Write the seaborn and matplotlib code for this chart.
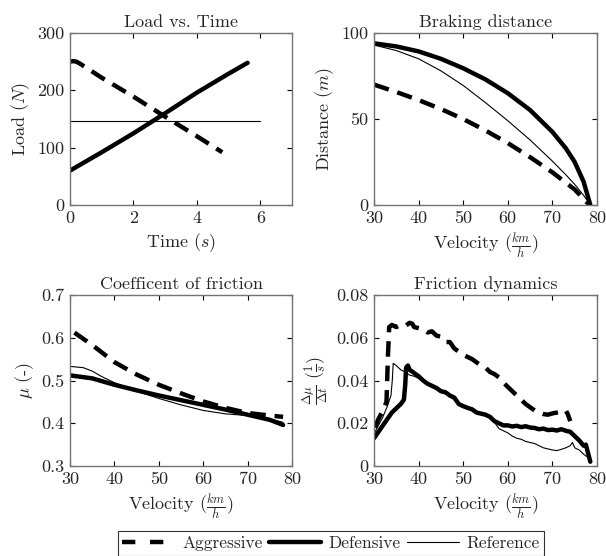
import numpy as np
import pandas as pd
import seaborn as sns
import matplotlib
matplotlib.use("Agg")
import matplotlib.pyplot as plt
from matplotlib.lines import Line2D

# ---------------- data ----------------
series_names = ["Aggressive", "Defensive", "Reference"]

# Load vs. Time
t_agg = [0, 0.1, 0.2, 0.3, 0.5, 1.0, 2.0, 3.0, 4.0, 4.8]
load_agg = [250, 251, 250, 247, 240, 222, 189, 154, 120, 92]
t_def = [0, 1, 2, 3, 4, 5, 5.6]
load_def = [60, 92, 125, 160, 196, 229, 248]
t_ref = [0, 6]
load_ref = [147, 147]

# Braking distance
v_dist_def = [30, 35, 40, 45, 50, 55, 60, 65, 70, 73, 75, 77, 78.5]
dist_def = [94, 92.2, 89.3, 85, 79.5, 73, 65, 55.2, 42.5, 33, 25, 13.5, 0]
v_dist_ref = [30, 35, 40, 45, 50, 55, 60, 65, 70, 73, 75, 77, 78.5]
dist_ref = [93, 89.8, 85.0, 78.0, 69.5, 59.5, 49, 37.8, 25.5, 17.6, 12, 5.6, 0]
v_dist_agg = [30, 35, 40, 45, 50, 55, 60, 65, 70, 75, 78.3]
dist_agg = [70, 65.7, 61, 55.8, 50, 43.3, 36, 27.8, 19, 9, 0]

# Coefficient of friction
v_mu_agg = [31, 35, 40, 45, 50, 55, 60, 65, 70, 75, 78]
mu_agg = [0.612, 0.583, 0.543, 0.514, 0.490, 0.470, 0.451, 0.436, 0.424, 0.418, 0.415]
v_mu_def = [30, 35, 40, 45, 50, 55, 60, 65, 70, 75, 78]
mu_def = [0.512, 0.505, 0.490, 0.477, 0.465, 0.454, 0.443, 0.432, 0.420, 0.408, 0.396]
v_mu_ref = [30, 33, 35, 37, 40, 45, 50, 55, 60, 65, 70, 75, 78]
mu_ref = [0.533, 0.530, 0.522, 0.510, 0.495, 0.475, 0.458, 0.443, 0.430, 0.422, 0.418, 0.410, 0.402]

# Friction dynamics
v_dyn_agg = [30.2, 31, 32, 32.8, 33.1, 33.4, 34, 35, 36, 37, 38, 38.6, 39, 40, 41, 42, 43,
             44, 45, 46, 47, 48, 49, 50, 51, 52, 53, 54, 55, 56, 57, 58, 59, 60, 61, 62,
             63, 64, 65, 66, 67, 68, 69, 70, 71, 72, 73, 73.5, 74]
dyn_agg = [0.018, 0.022, 0.026, 0.030, 0.050, 0.065, 0.066, 0.065, 0.066, 0.0655, 0.067, 0.0665,
           0.065, 0.0645, 0.064, 0.0625, 0.063, 0.061, 0.0605, 0.058, 0.058, 0.055, 0.0535,
           0.052, 0.051, 0.050, 0.0485, 0.047, 0.046, 0.044, 0.043, 0.0415, 0.039, 0.037,
           0.035, 0.033, 0.031, 0.029, 0.0275, 0.026, 0.025, 0.0243, 0.024, 0.0246, 0.025,
           0.0254, 0.026, 0.024, 0.021]
v_dyn_def = [30, 31, 32, 33, 34, 35, 36, 36.7, 37.0, 37.2, 37.6, 38, 39, 40, 41, 42, 43, 44,
             45, 46, 47, 48, 49, 50, 51, 52, 53, 54, 55, 56, 57, 58, 59, 60, 61, 62, 63, 64,
             65, 66, 67, 68, 69, 70, 71, 72, 73, 74, 75, 76, 77, 77.5, 78, 78.5]
dyn_def = [0.013, 0.016, 0.019, 0.022, 0.025, 0.027, 0.029, 0.031, 0.038, 0.046, 0.047, 0.045,
           0.0435, 0.042, 0.040, 0.0385, 0.0375, 0.0365, 0.035, 0.0345, 0.033, 0.032, 0.029,
           0.028, 0.0272, 0.0265, 0.025, 0.0245, 0.024, 0.023, 0.021, 0.020, 0.019, 0.019,
           0.0185, 0.0188, 0.0182, 0.0186, 0.018, 0.0178, 0.0172, 0.0175, 0.0168, 0.017,
           0.0166, 0.0172, 0.0165, 0.016, 0.014, 0.012, 0.0095, 0.010, 0.006, 0.002]
v_dyn_ref = [30, 31, 32, 33, 33.8, 34.1, 34.3, 35, 36, 37, 38, 39, 40, 41, 42, 43, 44, 45,
             46, 47, 48, 49, 50, 51, 52, 53, 54, 55, 56, 57, 58, 59, 60, 61, 62, 63, 64, 65,
             66, 67, 68, 69, 70, 71, 72, 73, 74, 74.5, 75, 76, 77, 78]
dyn_ref = [0.015, 0.019, 0.023, 0.028, 0.033, 0.040, 0.048, 0.047, 0.045, 0.044, 0.0425,
           0.042, 0.041, 0.0395, 0.038, 0.037, 0.036, 0.0345, 0.034, 0.0325, 0.031, 0.029,
           0.0275, 0.027, 0.026, 0.025, 0.024, 0.0235, 0.0225, 0.0205, 0.0175, 0.0165,
           0.0155, 0.014, 0.013, 0.0125, 0.0115, 0.011, 0.0105, 0.0095, 0.0085, 0.008,
           0.0075, 0.0072, 0.0078, 0.0085, 0.0095, 0.011, 0.0085, 0.0075, 0.0055, 0.004]

# ---------------- style ----------------
sns.set_style("ticks")
plt.rcParams.update({
    "font.family": "serif",
    "font.serif": ["cmr10"],
    "mathtext.fontset": "cm",
    "axes.formatter.use_mathtext": True,
    "axes.unicode_minus": False,
    "xtick.direction": "in",
    "ytick.direction": "in",
    "xtick.top": True,
    "ytick.right": True,
    "font.size": 13,
})

FS = 13
SPINE = "0.45"
LW_THICK = 3.2
LW_THIN = 0.8
DASH = (0, (3.5, 2.0))

fig = plt.figure(figsize=(6.06, 5.56), dpi=100)
W, H = 606, 556


def add_ax(left, top, right, bottom):
    return fig.add_axes([left / W, 1 - bottom / H, (right - left) / W, (bottom - top) / H])


ax1 = add_ax(70, 33, 292, 205)
ax2 = add_ax(374, 33, 597, 205)
ax3 = add_ax(70, 295, 292, 466)
ax4 = add_ax(374, 295, 597, 466)


def draw(ax, x, y, kind):
    if kind == "Aggressive":
        sns.lineplot(x=x, y=y, ax=ax, color="k", linewidth=LW_THICK, linestyle=DASH,
                     sort=False, estimator=None)
    elif kind == "Defensive":
        sns.lineplot(x=x, y=y, ax=ax, color="k", linewidth=LW_THICK, sort=False,
                     estimator=None)
    else:
        sns.lineplot(x=x, y=y, ax=ax, color="k", linewidth=LW_THIN, sort=False,
                     estimator=None)


draw(ax1, t_agg, load_agg, "Aggressive")
draw(ax1, t_def, load_def, "Defensive")
draw(ax1, t_ref, load_ref, "Reference")

draw(ax2, v_dist_agg, dist_agg, "Aggressive")
draw(ax2, v_dist_def, dist_def, "Defensive")
draw(ax2, v_dist_ref, dist_ref, "Reference")

draw(ax3, v_mu_agg, mu_agg, "Aggressive")
draw(ax3, v_mu_def, mu_def, "Defensive")
draw(ax3, v_mu_ref, mu_ref, "Reference")

draw(ax4, v_dyn_agg, dyn_agg, "Aggressive")
draw(ax4, v_dyn_def, dyn_def, "Defensive")
draw(ax4, v_dyn_ref, dyn_ref, "Reference")

vel_label = r"Velocity ($\frac{km}{h}$)"

ax1.set_xlim(0, 7)
ax1.set_ylim(0, 300)
ax1.set_xticks([0, 2, 4, 6])
ax1.set_xticklabels(["0", "2", "4", "6"])
ax1.set_yticks([0, 100, 200, 300])
ax1.set_yticklabels(["0", "100", "200", "300"])
ax1.set_title("Load vs. Time", fontsize=FS)
ax1.set_xlabel(r"Time ($s$)", fontsize=FS)
ax1.set_ylabel(r"Load ($N$)", fontsize=FS)

ax2.set_xlim(30, 80)
ax2.set_ylim(0, 100)
ax2.set_xticks([30, 40, 50, 60, 70, 80])
ax2.set_xticklabels(["30", "40", "50", "60", "70", "80"])
ax2.set_yticks([0, 50, 100])
ax2.set_yticklabels(["0", "50", "100"])
ax2.set_title("Braking distance", fontsize=FS)
ax2.set_xlabel(vel_label, fontsize=FS)
ax2.set_ylabel(r"Distance ($m$)", fontsize=FS)

ax3.set_xlim(30, 80)
ax3.set_ylim(0.3, 0.7)
ax3.set_xticks([30, 40, 50, 60, 70, 80])
ax3.set_xticklabels(["30", "40", "50", "60", "70", "80"])
ax3.set_yticks([0.3, 0.4, 0.5, 0.6, 0.7])
ax3.set_yticklabels(["0.3", "0.4", "0.5", "0.6", "0.7"])
ax3.set_title("Coefficent of friction", fontsize=FS)
ax3.set_xlabel(vel_label, fontsize=FS)
ax3.set_ylabel(r"$\mu$ (-)", fontsize=FS)

ax4.set_xlim(30, 80)
ax4.set_ylim(0, 0.08)
ax4.set_xticks([30, 40, 50, 60, 70, 80])
ax4.set_xticklabels(["30", "40", "50", "60", "70", "80"])
ax4.set_yticks([0, 0.02, 0.04, 0.06, 0.08])
ax4.set_yticklabels(["0", "0.02", "0.04", "0.06", "0.08"])
ax4.set_title("Friction dynamics", fontsize=FS)
ax4.set_xlabel(vel_label, fontsize=FS)
ax4.set_ylabel(r"$\frac{\Delta\mu}{\Delta t}$ ($\frac{1}{s}$)", fontsize=FS)

for ax in (ax1, ax2, ax3, ax4):
    for s in ax.spines.values():
        s.set_color(SPINE)
        s.set_linewidth(1.0)
        s.set_visible(True)
    ax.tick_params(axis="both", which="both", direction="in", length=3.5, width=0.8,
                   color="k", labelsize=FS, top=True, right=True, pad=4)
    ax.set_title(ax.get_title(), fontsize=FS, pad=4)
    if ax.get_legend() is not None:
        ax.get_legend().remove()

handles = [
    Line2D([], [], color="k", linewidth=LW_THICK, linestyle=(0, (3.0, 3.3))),
    Line2D([], [], color="k", linewidth=LW_THICK),
    Line2D([], [], color="k", linewidth=LW_THIN),
]
leg = fig.legend(handles, series_names, loc="lower left", ncol=3,
                 bbox_to_anchor=(118 / W, 0.5 / H), frameon=True, fancybox=False,
                 edgecolor="k", fontsize=12.5, handlelength=3.0, columnspacing=0.35,
                 handletextpad=0.45, borderpad=0.25, borderaxespad=0)
leg.get_frame().set_linewidth(0.8)

fig.savefig("out.png", dpi=100)
